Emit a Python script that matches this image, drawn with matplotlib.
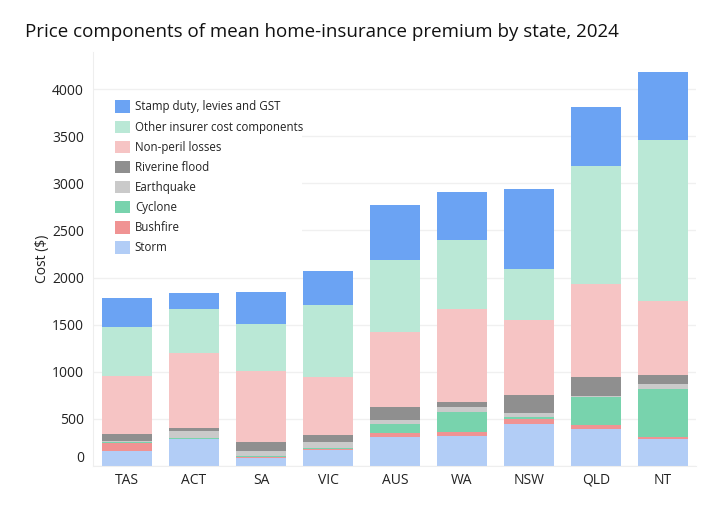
"""
Stacked bar chart of home-insurance premium components by state
"""
import matplotlib
matplotlib.use("Agg")
import matplotlib.pyplot as plt
from matplotlib.patches import Patch, Rectangle
import numpy as np

plt.rcParams['font.family'] = ['Open Sans', 'DejaVu Sans']

# data (dollars)
states = ['TAS', 'ACT', 'SA', 'VIC', 'AUS', 'WA', 'NSW', 'QLD', 'NT']

storm      = [159, 285,  88, 170, 308, 318, 446, 393, 286]
bushfire   = [ 85,   2,  11,  11,  42,  46,  49,  45,  25]
cyclone    = [ 10,  10,  10,  10,  96, 209,  28, 298, 506]
earthquake = [ 15,  74,  50,  64,  42,  53,  39,   7,  53]
riverine   = [ 71,  36,  99,  74, 138,  56, 195, 205,  99]
non_peril  = [615, 788, 746, 612, 799, 987, 792, 986, 782]
other_cost = [523, 474, 503, 767, 761, 729, 541, 1249, 1708]
stamp_duty = [304, 166, 339, 361, 583, 509, 849, 626, 721]

series_names = ['Storm', 'Bushfire', 'Cyclone', 'Earthquake', 'Riverine flood',
                'Non-peril losses', 'Other insurer cost components',
                'Stamp duty, levies and GST']
series = [storm, bushfire, cyclone, earthquake, riverine, non_peril,
          other_cost, stamp_duty]
colors = ['#b2cdf6', '#f09393', '#78d3ad', '#cacaca', '#8f8f8f',
          '#f6c4c4', '#bae8d6', '#6ba3f3']

yticks = [0, 500, 1000, 1500, 2000, 2500, 3000, 3500, 4000]

fig = plt.figure(figsize=(7.02, 5.17), dpi=100)
W, H = 702, 517
ax = fig.add_axes([93.5 / W, (H - 466) / H, 603 / W, 414 / H])

x = np.arange(len(states))
bottom = np.zeros(len(states))
for vals, col in zip(series, colors):
    ax.bar(x, vals, width=0.746, bottom=bottom, color=col, zorder=2,
           linewidth=0)
    bottom += np.array(vals)

ax.set_xlim(-0.5, len(states) - 0.5)
ax.set_ylim(0, 4393)
ax.set_xticks(x)
ax.set_xticklabels(states, fontsize=10, color='#222222')
ax.set_yticks(yticks)
ax.set_yticklabels([str(t) for t in yticks], fontsize=10, color='#222222')
ax.get_yticklabels()[0].set_va('bottom')
ax.tick_params(axis='both', length=0, pad=7)
ax.tick_params(axis='x', pad=5)

ax.grid(axis='y', color='#f0f0f0', linewidth=1)
ax.set_axisbelow(True)
for side in ['top', 'right']:
    ax.spines[side].set_visible(False)
for side in ['left', 'bottom']:
    ax.spines[side].set_color('#eeeeee')

ax.set_ylabel('Cost ($)', fontsize=10, color='#222222', labelpad=1)

# white box behind the legend hides the grid
ax.add_patch(Rectangle((0, 0.493), 0.346, 0.403, transform=ax.transAxes,
                       facecolor='white', edgecolor='none', zorder=1))

handles = [Patch(facecolor=c, edgecolor='none') for c in colors][::-1]
leg = ax.legend(handles, series_names[::-1], loc='upper left',
                bbox_to_anchor=(0.036, 0.883), frameon=False,
                fontsize=8.3, handlelength=1.25, handleheight=1.25,
                handletextpad=0.45, labelspacing=0.62, borderaxespad=0,
                borderpad=0)
for t in leg.get_texts():
    t.set_color('#222222')

fig.text(25 / W, 1 - 32 / H, 'Price components of mean home-insurance premium by state, 2024',
         fontsize=13.5, va='center', ha='left', color='#111111')

fig.savefig('out.png', dpi=100)
